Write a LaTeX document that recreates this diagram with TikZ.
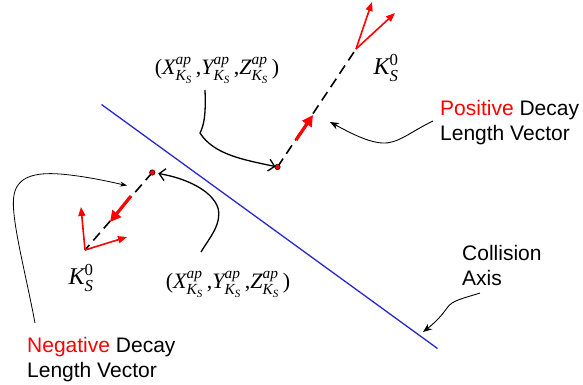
\documentclass[tikz,border=0pt]{standalone}
\usepackage{amsmath}
\usepackage{fontspec}
\setmainfont{Liberation Sans}
\newfontfamily\tnr{Liberation Serif}
\usetikzlibrary{arrows.meta}
\newcommand\mvar[1]{\text{\tnr\itshape #1}}
\newcommand\mup[1]{\text{\tnr #1}}
\newcommand\apcoord{$\mup{(}\mvar{X}^{\mvar{ap}}_{\mvar{K}_{\mvar{S}}}\,\mup{,}\mvar{Y}^{\mvar{ap}}_{\mvar{K}_{\mvar{S}}}\,\mup{,}\mvar{Z}^{\mvar{ap}}_{\mvar{K}_{\mvar{S}}}\,\mup{)}$}
\newcommand\kzero{$\mvar{K}^{\mup{0}}_{\mvar{S}}$}
\begin{document}
\begin{tikzpicture}[x=1pt,y=-1pt,
  sanslbl/.style={inner sep=0pt, align=left, font=\fontsize{21}{25}\selectfont, anchor=north west},
  mathlbl/.style={inner sep=0pt, font=\fontsize{22}{26}\selectfont},
  klbl/.style={inner sep=0pt, font=\fontsize{24}{28}\selectfont},
  dashline/.style={line width=1.6pt, dash pattern=on 10pt off 6pt},
  redvec/.style={draw=red, line width=1.6pt, -{Triangle[length=9pt,width=7pt]}, red},
  redmid/.style={draw=red, line width=3.2pt, -{Triangle[length=11pt,width=11pt]}, red},
  reddot/.style={circle, fill=red, draw=black, line width=0.5pt, inner sep=0pt, minimum size=5.5pt},
  barbarrow/.style={line width=1.3pt, -{Straight Barb[length=6pt,width=12pt,line width=1.3pt]}},
  thinarrow/.style={line width=0.9pt, -{Stealth[length=9pt,width=7pt]}},
  tinyarrow/.style={line width=0.8pt, -{Stealth[length=7pt,width=5pt]}},
  axisline/.style={draw={rgb,255:red,40;green,40;blue,210}, line width=1.3pt}
]
\useasboundingbox (0,0) rectangle (583,385);

% collision axis
\coordinate (axA) at (101.5,104.5);
\coordinate (axB) at (437.5,348.5);
\draw[axisline] (axA) -- (axB);

% upper (positive) track
\coordinate (upDotC) at (277.5,167);
\coordinate (upSplit) at (356,49);
\coordinate (upTipA) at (372,2);
\coordinate (upTipB) at (395,13);
\coordinate (upMidA) at (296,140);
\coordinate (upMidB) at (313,115);
\draw[dashline] (upDotC) -- (upSplit);
\draw[redvec] (upSplit) -- (upTipA);
\draw[redvec] (upSplit) -- (upTipB);
\draw[redmid] (upMidA) -- (upMidB);
\node[reddot] (upDot) at (upDotC) {};

% lower (negative) track
\coordinate (loDotC) at (152.3,172.5);
\coordinate (loSplit) at (85,250);
\coordinate (loTipA) at (81,207);
\coordinate (loTipB) at (127,237);
\coordinate (loMidA) at (131,196);
\coordinate (loMidB) at (110,222);
\draw[dashline] (loDotC) -- (loSplit);
\draw[redvec] (loSplit) -- (loTipA);
\draw[redvec] (loSplit) -- (loTipB);
\draw[redmid] (loMidA) -- (loMidB);
\node[reddot] (loDot) at (loDotC) {};

% labels
\node[mathlbl] (upCoord) at (217,70) {\apcoord};
\node[mathlbl] (loCoord) at (228,284) {\apcoord};
\node[klbl] (upK) at (386,68) {\kzero};
\node[klbl] (loK) at (81,278) {\kzero};
\node[sanslbl] (posLbl) at (440,100) {\textcolor{red}{Positive} Decay\\Length Vector};
\node[sanslbl] (colLbl) at (462,245) {Collision\\Axis};
\node[sanslbl] (negLbl) at (27,337) {\textcolor{red}{Negative} Decay\\Length Vector};

% pointer arrows
\coordinate (c1) at (205,90);
\draw[barbarrow, shorten >=2pt] (c1) .. controls (206,115) and (204,125) .. (200,133)
  .. controls (214,155) and (245,160) .. (upDot.center);
\coordinate (c2) at (201,252);
\draw[barbarrow, shorten >=6pt] (c2) .. controls (210,237) and (222,224) .. (218,208)
  .. controls (212,190) and (185,178) .. (loDot.center);
\coordinate (c3s) at (433,121);
\coordinate (c3e) at (330,122);
\draw[thinarrow] (c3s) .. controls (410,132) and (398,144) .. (382,143)
  .. controls (366,142) and (345,130) .. (c3e);
\coordinate (c4s) at (480,293);
\coordinate (c4e) at (423,332);
\draw[thinarrow] (c4s) .. controls (465,298) and (452,300) .. (447,308)
  .. controls (440,318) and (432,325) .. (c4e);
\coordinate (c5s) at (35,323);
\coordinate (c5e) at (127,185.5);
\draw[tinyarrow] (c5s) .. controls (25,270) and (10,215) .. (14,195)
  .. controls (18,172) and (45,172) .. (70,175)
  .. controls (95,178) and (115,183) .. (c5e);
\end{tikzpicture}
\end{document}
